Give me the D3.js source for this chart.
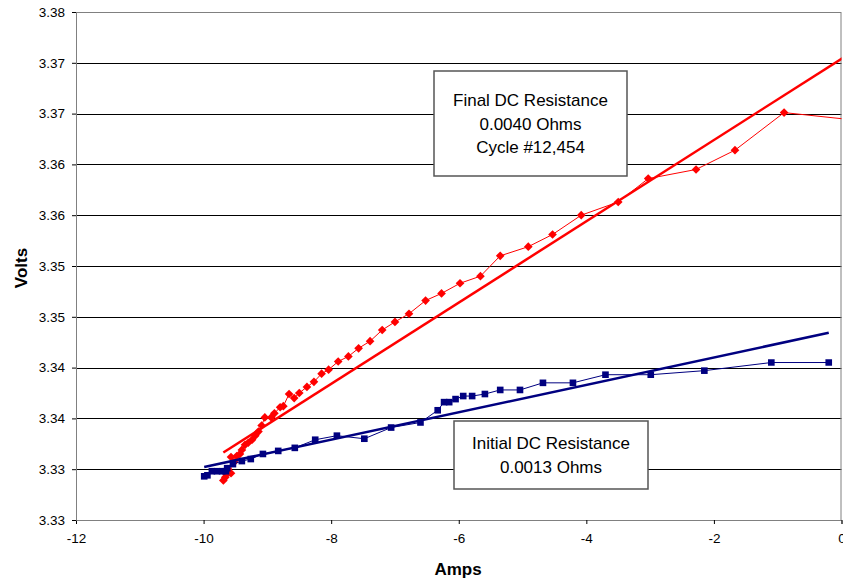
<!DOCTYPE html>
<html>
<head>
<meta charset="utf-8">
<script src="https://cdn.jsdelivr.net/npm/d3@7"></script>
<style>
  body { margin: 0; background: #fff; }
  text { font-family: "Liberation Sans", Arial, sans-serif; }
</style>
</head>
<body>
<script>
// final test (cycle 12,454) - amps / volts
var finalAmps = [-9.69, -9.66, -9.64, -9.62, -9.60, -9.57, -9.57, -9.52, -9.48, -9.43,
                 -9.40, -9.35, -9.30, -9.24, -9.19, -9.14, -9.09, -9.04, -8.94, -8.89,
                 -8.80, -8.75, -8.66, -8.58, -8.50, -8.38, -8.27, -8.15, -8.04, -7.89,
                 -7.73, -7.57, -7.39, -7.20, -7.00, -6.78, -6.52, -6.27, -5.98, -5.66,
                 -5.35, -4.91, -4.53, -4.08, -3.50, -3.03, -2.28, -1.67, -0.90, 0.30];
var finalVolts = [3.3289, 3.3292, 3.3295, 3.3300, 3.3297, 3.3296, 3.3312, 3.3307, 3.3313, 3.3315,
                  3.3319, 3.3324, 3.3326, 3.3329, 3.3333, 3.3337, 3.3343, 3.3351, 3.3351, 3.3355,
                  3.3361, 3.3362, 3.3374, 3.3370, 3.3375, 3.3381, 3.3386, 3.3394, 3.3398, 3.3406,
                  3.3411, 3.3419, 3.3426, 3.3437, 3.3445, 3.3453, 3.3466, 3.3473, 3.3483, 3.3490,
                  3.3510, 3.3519, 3.3531, 3.3550, 3.3563, 3.3586, 3.3595, 3.3614, 3.3651, 3.3643];

// initial test
var initAmps = [-9.99, -9.94, -9.87, -9.79, -9.71, -9.65, -9.63, -9.54, -9.40, -9.26,
                -9.07, -8.83, -8.57, -8.25, -7.91, -7.48, -7.06, -6.60, -6.33, -6.23,
                -6.15, -6.05, -5.93, -5.79, -5.59, -5.35, -5.04, -4.68, -4.21, -3.70,
                -2.99, -2.15, -1.10, -0.20];
var initVolts = [3.3293, 3.3294, 3.3298, 3.3298, 3.3298, 3.3298, 3.3301, 3.3305, 3.3308, 3.3310,
                 3.3315, 3.3318, 3.3321, 3.3329, 3.3333, 3.3330, 3.3341, 3.3346, 3.3358, 3.3366,
                 3.3366, 3.3369, 3.3372, 3.3372, 3.3374, 3.3378, 3.3378, 3.3385, 3.3385, 3.3393,
                 3.3393, 3.3397, 3.3405, 3.3405];

// linear trend lines (volts = intercept + slope * amps)
var finalFit = [3.3704, 0.0040];
var initFit = [3.3437, 0.00135];

var xTicks = [-12, -10, -8, -6, -4, -2, 0];
var xTickLabels = ["-12", "-10", "-8", "-6", "-4", "-2", "0"];
var yTicks = [3.325, 3.330, 3.335, 3.340, 3.345, 3.350, 3.355, 3.360, 3.365, 3.370, 3.375];
var yTickLabels = ["3.33", "3.33", "3.34", "3.34", "3.35", "3.35", "3.36", "3.36", "3.37", "3.37", "3.38"];

var finalNote = ["Final DC Resistance", "0.0040 Ohms", "Cycle #12,454"];
var initNote = ["Initial DC Resistance", "0.0013 Ohms"];

var width = 843, height = 584;
var plotL = 76, plotR = 841.5, plotT = 12, plotB = 520;

var svg = d3.select("body").append("svg")
    .attr("width", width)
    .attr("height", height);

var x = d3.scaleLinear().domain([-12, 0]).range([plotL, plotR]);
var y = d3.scaleLinear().domain([3.325, 3.375]).range([plotB, plotT]);

svg.append("defs").append("clipPath").attr("id", "plot")
  .append("rect").attr("x", plotL).attr("y", plotT)
  .attr("width", plotR - plotL).attr("height", plotB - plotT);

// gridlines
svg.append("g").selectAll("line")
    .data(yTicks.slice(1, -1))
    .enter().append("line")
      .attr("x1", plotL).attr("x2", plotR)
      .attr("y1", function(d){ return Math.round(y(d)) + 0.5; })
      .attr("y2", function(d){ return Math.round(y(d)) + 0.5; })
      .attr("stroke", "#000")
      .attr("stroke-width", 1);

svg.append("rect")
    .attr("x", plotL + 0.5).attr("y", plotT + 0.5)
    .attr("width", plotR - plotL - 1).attr("height", plotB - plotT)
    .attr("fill", "none")
    .attr("stroke", "#808080");

// axes
var xAxis = d3.axisBottom(x).tickValues(xTicks).tickSize(4).tickPadding(9)
    .tickFormat(function(d, i){ return xTickLabels[i]; });
var yAxis = d3.axisLeft(y).tickValues(yTicks).tickSize(4).tickPadding(7)
    .tickFormat(function(d, i){ return yTickLabels[i]; });

var gx = svg.append("g").attr("transform", "translate(0," + plotB + ")").call(xAxis);
var gy = svg.append("g").attr("transform", "translate(" + plotL + ",0)").call(yAxis);
[gx, gy].forEach(function(g){
  g.select(".domain").attr("stroke", "#808080");
  g.selectAll(".tick line").attr("stroke", "#000");
  g.selectAll("text").attr("font-size", 13.5).attr("fill", "#000")
    .attr("font-family", "Liberation Sans, Arial, sans-serif");
});

var plot = svg.append("g").attr("clip-path", "url(#plot)");

function series(ax, vs, color, symbol, size) {
  var pts = ax.map(function(a, i){ return [a, vs[i]]; });
  plot.append("path")
      .datum(pts)
      .attr("fill", "none")
      .attr("stroke", color)
      .attr("stroke-width", 1)
      .attr("d", d3.line().x(function(d){ return x(d[0]); }).y(function(d){ return y(d[1]); }));
  plot.append("g").selectAll("path")
      .data(pts)
      .enter().append("path")
        .attr("transform", function(d){ return "translate(" + x(d[0]) + "," + y(d[1]) + ")"; })
        .attr("d", d3.symbol().type(symbol).size(size))
        .attr("fill", color);
}

function trend(ax, fit, color) {
  var ext = d3.extent(ax);
  plot.append("line")
      .attr("x1", x(ext[0])).attr("y1", y(fit[0] + fit[1] * ext[0]))
      .attr("x2", x(ext[1])).attr("y2", y(fit[0] + fit[1] * ext[1]))
      .attr("stroke", color)
      .attr("stroke-width", 2.5);
}

series(finalAmps, finalVolts, "#ff0000", d3.symbolDiamond2, 48);
series(initAmps, initVolts, "#000080", d3.symbolSquare, 44);
trend(finalAmps, finalFit, "#ff0000");
trend(initAmps, initFit, "#000080");

// notes
function note(lines, bx, by, bw, bh, ty) {
  svg.append("rect")
      .attr("x", bx).attr("y", by)
      .attr("width", bw).attr("height", bh)
      .attr("fill", "#fff")
      .attr("stroke", "#555")
      .attr("stroke-width", 1.5);
  svg.append("g").selectAll("text")
      .data(lines)
      .enter().append("text")
        .attr("x", bx + bw / 2)
        .attr("y", function(d, i){ return ty + i * 23.5; })
        .attr("text-anchor", "middle")
        .attr("font-size", 17)
        .text(function(d){ return d; });
}
note(finalNote, 434, 71, 193, 105, 106);
note(initNote, 454, 421, 194, 68, 449);

// axis titles
svg.append("text")
    .attr("x", 458).attr("y", 575)
    .attr("text-anchor", "middle")
    .attr("font-size", 17).attr("font-weight", "bold")
    .text("Amps");

svg.append("text")
    .attr("transform", "translate(27,268) rotate(-90)")
    .attr("text-anchor", "middle")
    .attr("font-size", 17).attr("font-weight", "bold")
    .text("Volts");
</script>
</body>
</html>
